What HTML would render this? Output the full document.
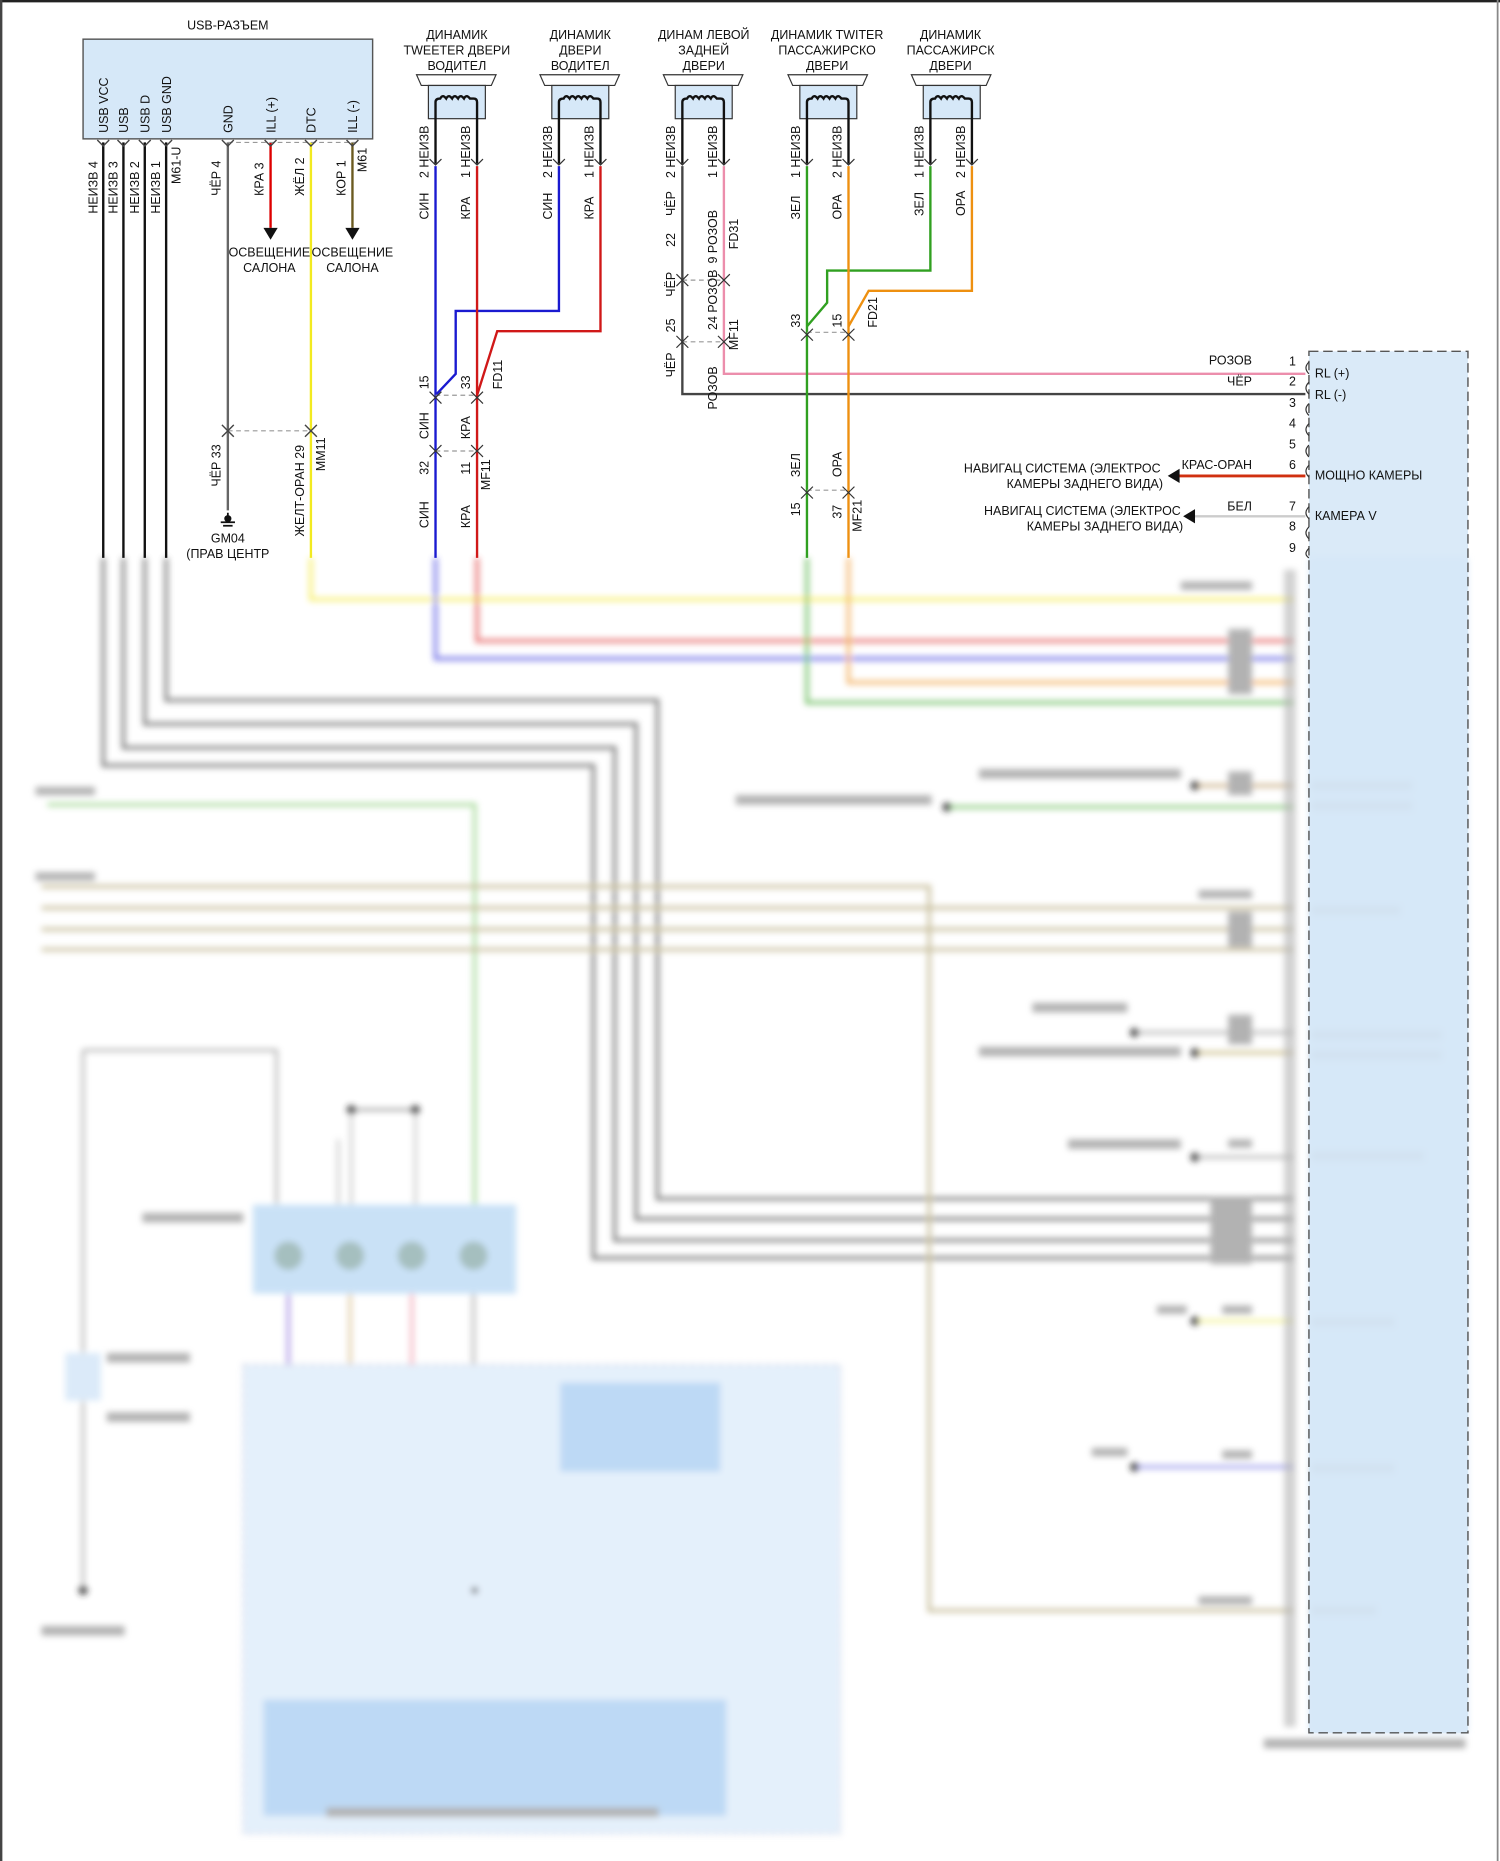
<!DOCTYPE html>
<html><head><meta charset="utf-8"><style>
html,body{margin:0;padding:0;background:#fff}
svg{display:block}
text{font-family:"Liberation Sans","Noto Sans CJK SC",sans-serif;font-size:10.5px;fill:#111}
</style></head><body>
<svg width="1500" height="1861" viewBox="0 0 1264 1568" preserveAspectRatio="none" xmlns="http://www.w3.org/2000/svg">
<defs><filter id="bl"><feGaussianBlur stdDeviation="2.6"/></filter></defs>
<rect x="0" y="0" width="1264" height="1568" fill="#fff"/>
<line x1="0" y1="1" x2="1264" y2="1" stroke="#222" stroke-width="2"/>
<line x1="1" y1="0" x2="1" y2="1568" stroke="#444" stroke-width="2"/>
<line x1="1262" y1="0" x2="1262" y2="1568" stroke="#888" stroke-width="1.5"/>

<!-- BLURRED LOWER -->
<g filter="url(#bl)" opacity="0.75">
<rect x="1103" y="470" width="134" height="990" fill="#cfe3f7"/>
<g fill="none" stroke-width="3">
<path d="M87 470 V645 H500 V1060 H1090" stroke="#555"/>
<path d="M104 470 V630 H518 V1045 H1090" stroke="#555"/>
<path d="M122 470 V610 H536 V1027 H1090" stroke="#555"/>
<path d="M140 470 V590 H554 V1010 H1090" stroke="#555"/>
<path d="M262 470 V505 H1090" stroke="#f5ea40"/>
<path d="M367 470 V555 H1090" stroke="#4a4ae0"/>
<path d="M402 470 V540 H1090" stroke="#e04040"/>
<path d="M680 470 V592 H1090" stroke="#50b040"/>
<path d="M715 470 V575 H1090" stroke="#f0a040"/>
<path d="M40 678 H400 V1040" stroke="#90d080"/>
<path d="M800 680 H1090" stroke="#70c060"/>
<path d="M1005 662 H1090" stroke="#c0a070"/>
<path d="M35 747 H783 V1357 H1090" stroke="#b8ac80"/>
<path d="M35 765 H1090" stroke="#b8ac80"/>
<path d="M35 783 H1090" stroke="#b8ac80"/>
<path d="M35 800 H1090" stroke="#b8ac80"/>
<path d="M955 870 H1090" stroke="#aaa"/>
<path d="M1005 887 H1090" stroke="#c0b070"/>
<path d="M1005 975 H1090" stroke="#aaa"/>
<path d="M1005 1113 H1090" stroke="#f0f080"/>
<path d="M955 1236 H1090" stroke="#8a8ae8"/>
<path d="M70 885 H233 V1015" stroke="#888" stroke-width="2"/>
<path d="M70 885 V1340" stroke="#888" stroke-width="2"/>
<path d="M296 935 H350" stroke="#666" stroke-width="2"/>
<path d="M285 960 V1015 M350 935 V1015 M296 935 V1015" stroke="#aaa" stroke-width="2"/>
<path d="M243 1090 V1430" stroke="#9a80e0"/>
<path d="M295 1090 V1430" stroke="#d8c090"/>
<path d="M347 1090 V1430" stroke="#f0a0b0"/>
<path d="M399 1090 V1430" stroke="#aaa"/>
<path d="M490 1240 V1430 M520 1240 V1430 M550 1240 V1430 M593 1240 V1430" stroke="#888"/>
<path d="M593 1290 V1400" stroke="#d080f0"/>
</g>
<rect x="213" y="1015" width="222" height="75" fill="#b8d8f4"/>
<circle cx="243" cy="1058" r="12" fill="#8aa"/><circle cx="295" cy="1058" r="12" fill="#8aa"/>
<circle cx="347" cy="1058" r="12" fill="#8aa"/><circle cx="399" cy="1058" r="12" fill="#8aa"/>
<rect x="205" y="1150" width="503" height="395" fill="#dcebfa" stroke="#aac" stroke-dasharray="5 3"/>
<rect x="222" y="1432" width="390" height="98" fill="#a8cdf2"/>
<rect x="472" y="1165" width="135" height="75" fill="#a8cdf2"/>
<rect x="55" y="1140" width="30" height="40" fill="#cfe3f7"/>
<g fill="#999">
<rect x="1082" y="480" width="10" height="975" opacity="0.6"/>
<rect x="825" y="648" width="170" height="8"/><rect x="620" y="670" width="165" height="8"/>
<rect x="30" y="663" width="50" height="7"/><rect x="30" y="735" width="50" height="7"/>
<rect x="1105" y="658" width="85" height="8"/><rect x="1105" y="675" width="85" height="8"/>
<rect x="1105" y="763" width="75" height="8"/><rect x="1105" y="868" width="110" height="8"/>
<rect x="1105" y="885" width="110" height="8"/><rect x="1105" y="970" width="95" height="8"/>
<rect x="1105" y="1110" width="70" height="8"/><rect x="1105" y="1233" width="70" height="8"/>
<rect x="1105" y="1353" width="55" height="8"/><rect x="1065" y="1465" width="170" height="8"/>
<rect x="870" y="845" width="80" height="8"/><rect x="825" y="882" width="170" height="8"/>
<rect x="900" y="960" width="95" height="8"/><rect x="120" y="1022" width="85" height="8"/>
<rect x="90" y="1140" width="70" height="8"/><rect x="90" y="1190" width="70" height="8"/>
<rect x="35" y="1370" width="70" height="8"/><rect x="275" y="1523" width="280" height="8"/>
<rect x="1020" y="1010" width="35" height="55"/>
<rect x="995" y="490" width="60" height="7"/><rect x="1035" y="530" width="20" height="55"/>
<rect x="1010" y="750" width="45" height="7"/><rect x="1035" y="768" width="20" height="30"/>
<rect x="1035" y="650" width="20" height="20"/><rect x="1035" y="855" width="20" height="25"/>
<rect x="1030" y="1100" width="25" height="7"/><rect x="1030" y="1222" width="25" height="7"/>
<rect x="1010" y="1345" width="45" height="7"/><rect x="975" y="1100" width="25" height="7"/>
<rect x="920" y="1220" width="30" height="7"/><rect x="1035" y="960" width="20" height="7"/>
</g>
<g fill="#222"><circle cx="1007" cy="662" r="4"/><circle cx="798" cy="680" r="4"/><circle cx="956" cy="870" r="4"/>
<circle cx="1007" cy="887" r="4"/><circle cx="1007" cy="975" r="4"/><circle cx="1007" cy="1113" r="4"/>
<circle cx="956" cy="1236" r="4"/><circle cx="296" cy="935" r="4"/><circle cx="350" cy="935" r="4"/>
<circle cx="70" cy="1340" r="4"/><circle cx="400" cy="1340" r="3"/></g>
</g>

<!-- TOP SHARP -->
<text x="192" y="25" text-anchor="middle">USB-РАЗЪЕМ</text>
<rect x="70" y="33" width="244" height="84" fill="#d6e8f8" stroke="#555" stroke-width="1.2"/>
<g transform="rotate(-90)">
<text x="-112" y="91">USB VCC</text><text x="-112" y="108">USB</text><text x="-112" y="126">USB D</text><text x="-112" y="144">USB GND</text>
<text x="-112" y="196">GND</text><text x="-112" y="232">ILL (+)</text><text x="-112" y="266">DTC</text><text x="-112" y="301">ILL (-)</text>
<text x="-180" y="82">НЕИЗВ  4</text><text x="-180" y="99">НЕИЗВ  3</text><text x="-180" y="117">НЕИЗВ  2</text><text x="-180" y="135">НЕИЗВ  1</text>
<text x="-155" y="152">M61-U</text>
<text x="-165" y="186">ЧЁР  4</text><text x="-165" y="222">КРА  3</text><text x="-165" y="256">ЖЁЛ  2</text><text x="-165" y="291">КОР  1</text>
<text x="-145" y="309">M61</text>
<text x="-410" y="186">ЧЁР  33</text><text x="-452" y="256">ЖЕЛТ-ОРАН  29</text><text x="-397" y="274">MM11</text>
</g>
<g fill="none" stroke-width="2">
<path d="M87 120 V470 M104 120 V470 M122 120 V470 M140 120 V470" stroke="#111"/>
<path d="M192 120 V430" stroke="#666"/>
<path d="M228 120 V192" stroke="#d00"/>
<path d="M297 120 V192" stroke="#6b5a20"/>
<path d="M262 120 V470" stroke="#f2ea20"/>
<path d="M192 120 H300 M192 363 H262" stroke="#999" stroke-dasharray="4 3" stroke-width="1"/>
</g>
<g stroke="#444" fill="none" stroke-width="1.2">
<path d="M82 118 l5 5 l5 -5 M99 118 l5 5 l5 -5 M117 118 l5 5 l5 -5 M135 118 l5 5 l5 -5 M187 118 l5 5 l5 -5 M223 118 l5 5 l5 -5 M257 118 l5 5 l5 -5 M292 118 l5 5 l5 -5"/>
<path d="M187 358 l5 5 l5 -5 M187 368 l5 -5 l5 5 M257 358 l5 5 l5 -5 M257 368 l5 -5 l5 5"/>
</g>
<path d="M222 192 h12 l-6 10z M291 192 h12 l-6 10z" fill="#111"/>
<text x="227" y="216" text-anchor="middle">ОСВЕЩЕНИЕ</text><text x="227" y="229" text-anchor="middle">САЛОНА</text>
<text x="297" y="216" text-anchor="middle">ОСВЕЩЕНИЕ</text><text x="297" y="229" text-anchor="middle">САЛОНА</text>
<path d="M192 432 v4 M186 440 h12 M188 443 h8" stroke="#111" stroke-width="1.5"/><circle cx="192" cy="437" r="3" fill="#111"/>
<text x="192" y="457" text-anchor="middle">GM04</text><text x="192" y="470" text-anchor="middle">(ПРАВ ЦЕНТР</text>

<g font-size="10.5">
<text x="385" y="33" text-anchor="middle">ДИНАМИК</text><text x="385" y="46" text-anchor="middle">TWEETER ДВЕРИ</text><text x="385" y="59" text-anchor="middle">ВОДИТЕЛ</text>
<text x="489" y="33" text-anchor="middle">ДИНАМИК</text><text x="489" y="46" text-anchor="middle">ДВЕРИ</text><text x="489" y="59" text-anchor="middle">ВОДИТЕЛ</text>
<text x="593" y="33" text-anchor="middle">ДИНАМ ЛЕВОЙ</text><text x="593" y="46" text-anchor="middle">ЗАДНЕЙ</text><text x="593" y="59" text-anchor="middle">ДВЕРИ</text>
<text x="697" y="33" text-anchor="middle">ДИНАМИК TWITER</text><text x="697" y="46" text-anchor="middle">ПАССАЖИРСКО</text><text x="697" y="59" text-anchor="middle">ДВЕРИ</text>
<text x="801" y="33" text-anchor="middle">ДИНАМИК</text><text x="801" y="46" text-anchor="middle">ПАССАЖИРСК</text><text x="801" y="59" text-anchor="middle">ДВЕРИ</text>
</g>
<g id="spk">
<path d="M351 63 H418 L414 72 H355 Z" fill="#fff" stroke="#333"/>
<rect x="361" y="72" width="48" height="28" fill="#d6e8f8" stroke="#333"/>
<path d="M367 138 V86 q0 -3 4 -3 q2 -4 5 0 q2 -4 5 0 q2 -4 5 0 q2 -4 5 0 q2 -4 5 0 h3 q3 0 3 3 V138" fill="none" stroke="#111" stroke-width="2"/>
<path d="M362 134 l5 5 l5 -5 M397 134 l5 5 l5 -5" fill="none" stroke="#333"/>
</g>
<use href="#spk" x="104"/><use href="#spk" x="208"/><use href="#spk" x="313"/><use href="#spk" x="417"/>

<g fill="none" stroke-width="2">
<path d="M367 140 V470" stroke="#1a1ad0"/>
<path d="M471 140 V262 H384 V315 L367 333" stroke="#1a1ad0"/>
<path d="M402 140 V470" stroke="#d01818"/>
<path d="M506 140 V279 H419 L402 333" stroke="#d01818"/>
<path d="M575 140 V332 H1100" stroke="#444"/>
<path d="M610 140 V315 H1100" stroke="#ec8eac"/>
<path d="M680 140 V470" stroke="#30a020"/>
<path d="M784 140 V228 H697 V255 L680 275" stroke="#30a020"/>
<path d="M715 140 V470" stroke="#ee9010"/>
<path d="M819 140 V245 H732 L715 275" stroke="#ee9010"/>
<path d="M990 401 H1100" stroke="#d03010" stroke-width="2.5"/>
<path d="M1003 435 H1100" stroke="#ccc"/>
</g>
<g stroke="#999" stroke-width="1" stroke-dasharray="4 3">
<path d="M367 333 H402 M367 380 H402 M575 236 H610 M575 288 H610 M680 280 H715 M680 413 H715"/>
</g>
<g stroke="#333" fill="none" stroke-width="1">
<path d="M362 330 l5 5 l5 -5 M362 340 l5 -5 l5 5 M397 330 l5 5 l5 -5 M397 340 l5 -5 l5 5"/>
<path d="M362 375 l5 5 l5 -5 M362 385 l5 -5 l5 5 M397 375 l5 5 l5 -5 M397 385 l5 -5 l5 5"/>
<path d="M570 231 l5 5 l5 -5 M570 241 l5 -5 l5 5 M605 231 l5 5 l5 -5 M605 241 l5 -5 l5 5"/>
<path d="M570 283 l5 5 l5 -5 M570 293 l5 -5 l5 5 M605 283 l5 5 l5 -5 M605 293 l5 -5 l5 5"/>
<path d="M675 277 l5 5 l5 -5 M675 287 l5 -5 l5 5 M710 277 l5 5 l5 -5 M710 287 l5 -5 l5 5"/>
<path d="M675 410 l5 5 l5 -5 M675 420 l5 -5 l5 5 M710 410 l5 5 l5 -5 M710 420 l5 -5 l5 5"/>
</g>
<path d="M984 401 l10 -6 v12z M997 435 l10 -6 v12z" fill="#111"/>
<g transform="rotate(-90)">
<text x="-150" y="361">2 НЕИЗВ</text><text x="-150" y="396">1 НЕИЗВ</text>
<text x="-150" y="465">2 НЕИЗВ</text><text x="-150" y="500">1 НЕИЗВ</text>
<text x="-150" y="569">2 НЕИЗВ</text><text x="-150" y="604">1 НЕИЗВ</text>
<text x="-150" y="674">1 НЕИЗВ</text><text x="-150" y="709">2 НЕИЗВ</text>
<text x="-150" y="778">1 НЕИЗВ</text><text x="-150" y="813">2 НЕИЗВ</text>
<text x="-185" y="361">СИН</text><text x="-185" y="396">КРА</text><text x="-185" y="465">СИН</text><text x="-185" y="500">КРА</text>
<text x="-182" y="569">ЧЁР</text><text x="-208" y="569">22</text><text x="-222" y="604">9 РОЗОВ</text><text x="-210" y="622">FD31</text>
<text x="-250" y="569">ЧЁР</text><text x="-280" y="569">25</text><text x="-278" y="604">24 РОЗОВ</text><text x="-295" y="622">MF11</text>
<text x="-318" y="569">ЧЁР</text><text x="-345" y="604">РОЗОВ</text>
<text x="-185" y="674">ЗЕЛ</text><text x="-185" y="709">ОРА</text><text x="-182" y="778">ЗЕЛ</text><text x="-182" y="813">ОРА</text>
<text x="-276" y="674">33</text><text x="-276" y="709">15</text><text x="-276" y="739">FD21</text>
<text x="-328" y="361">15</text><text x="-328" y="396">33</text><text x="-328" y="423">FD11</text>
<text x="-370" y="361">СИН</text><text x="-370" y="396">КРА</text>
<text x="-400" y="361">32</text><text x="-400" y="396">11</text><text x="-413" y="413">MF11</text>
<text x="-445" y="361">СИН</text><text x="-445" y="396">КРА</text>
<text x="-402" y="674">ЗЕЛ</text><text x="-402" y="709">ОРА</text>
<text x="-435" y="674">15</text><text x="-437" y="709">37</text><text x="-448" y="726">MF21</text>
</g>

<rect x="1103" y="296" width="134" height="1164" fill="#d6e8f8" stroke="#444" stroke-dasharray="8 4" stroke-width="1.2" opacity="0.9"/>
<g text-anchor="end">
<text x="1092" y="308">1</text><text x="1092" y="325">2</text><text x="1092" y="343">3</text><text x="1092" y="360">4</text>
<text x="1092" y="378">5</text><text x="1092" y="395">6</text><text x="1092" y="430">7</text><text x="1092" y="447">8</text><text x="1092" y="465">9</text>
<text x="1055" y="307">РОЗОВ</text><text x="1055" y="325">ЧЁР</text><text x="1055" y="395">КРАС-ОРАН</text><text x="1055" y="430">БЕЛ</text>
<text x="978" y="398">НАВИГАЦ СИСТЕМА (ЭЛЕКТРОС</text><text x="980" y="411">КАМЕРЫ ЗАДНЕГО ВИДА)</text>
<text x="995" y="434">НАВИГАЦ СИСТЕМА (ЭЛЕКТРОС</text><text x="997" y="447">КАМЕРЫ ЗАДНЕГО ВИДА)</text>
</g>
<text x="1108" y="318">RL (+)</text><text x="1108" y="336">RL (-)</text><text x="1108" y="404">МОЩНО КАМЕРЫ</text><text x="1108" y="438">КАМЕРА V</text>
<path d="M1103 305 q-5 5 0 10 M1103 322 q-5 5 0 10 M1103 340 q-5 5 0 10 M1103 357 q-5 5 0 10 M1103 375 q-5 5 0 10 M1103 392 q-5 5 0 10 M1103 427 q-5 5 0 10 M1103 444 q-5 5 0 10 M1103 462 q-5 5 0 8" fill="none" stroke="#333"/>
</svg>
</body></html>
